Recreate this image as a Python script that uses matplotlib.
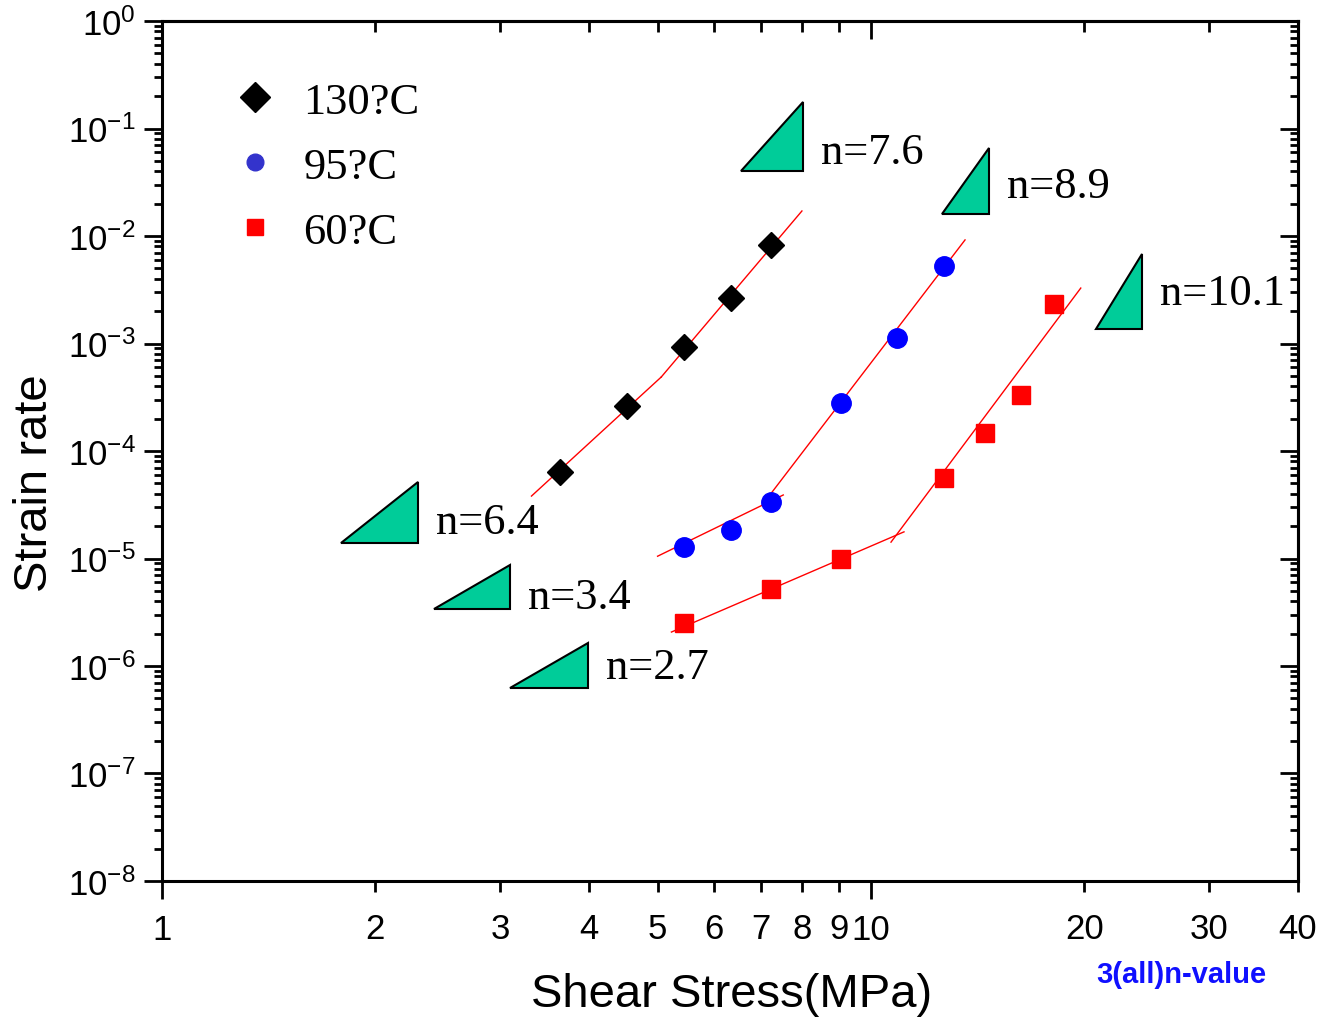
import math
import matplotlib
matplotlib.use("Agg")
import matplotlib.pyplot as plt
from matplotlib.lines import Line2D
from matplotlib.ticker import FixedLocator, FuncFormatter, LogLocator, NullFormatter

plt.rcParams['font.family'] = ['Liberation Sans', 'DejaVu Sans']
plt.rcParams['mathtext.fontset'] = 'custom'
plt.rcParams['mathtext.rm'] = 'Liberation Sans'
plt.rcParams['mathtext.it'] = 'Liberation Sans'
plt.rcParams['mathtext.bf'] = 'Liberation Sans:bold'

# measured points (shear stress in MPa, strain rate)
x130 = [3.64, 4.53, 5.44, 6.35, 7.23]
y130 = [6.4e-5, 2.62e-4, 9.3e-4, 2.65e-3, 8.3e-3]
x95 = [5.44, 6.35, 7.23, 9.07, 10.88, 12.67]
y95 = [1.28e-5, 1.84e-5, 3.36e-5, 2.8e-4, 1.12e-3, 5.3e-3]
x60 = [5.44, 7.23, 9.07, 12.67, 14.47, 16.27, 18.10]
y60 = [2.51e-6, 5.2e-6, 9.9e-6, 5.6e-5, 1.47e-4, 3.32e-4, 2.33e-3]

# fitted segments: (x0, x1, y0, y1)
fits = [
    (3.32, 5.06, 3.81e-5, 4.88e-4),
    (5.06, 7.99, 4.88e-4, 1.71e-2),
    (5.0, 7.52, 1.05e-5, 3.9e-5),
    (7.18, 13.57, 3.81e-5, 9.2e-3),
    (5.23, 11.13, 2.07e-6, 1.77e-5),
    (10.67, 19.76, 1.42e-5, 3.28e-3),
]

# slope triangles: (x_left, x_right, y_bottom, y_top)
triangles = [
    (6.56, 8.02, 4.03e-2, 0.1765),
    (12.59, 14.66, 1.60e-2, 6.59e-2),
    (20.74, 24.08, 1.36e-3, 6.8e-3),
    (1.79, 2.30, 1.39e-5, 5.15e-5),
    (2.42, 3.10, 3.39e-6, 8.7e-6),
    (3.10, 3.99, 6.24e-7, 1.64e-6),
]
n_labels = ['n=7.6', 'n=8.9', 'n=10.1', 'n=6.4', 'n=3.4', 'n=2.7']
n_lift = [6, 12, 18, 7, 1, 7]

legend_labels = ['130?C', '95?C', '60?C']

fig = plt.figure(figsize=(13.22, 10.2), dpi=100)
ax = fig.add_axes([0.1225, 0.1353, 0.8593, 0.8431])
ax.set_xscale('log')
ax.set_yscale('log')
ax.set_xlim(1, 40)
ax.set_ylim(1e-8, 1)

for x0, x1, y0, y1 in fits:
    ax.plot([x0, x1], [y0, y1], color='red', lw=1.0, zorder=2)

ax.plot(x130, y130, 'D', color='black', ms=13, zorder=3)
ax.plot(x95, y95, 'o', color='blue', ms=14, zorder=3)
ax.plot(x60, y60, 's', color='red', ms=13, zorder=3)

for (xl, xr, yb, yt), lab, dy in zip(triangles, n_labels, n_lift):
    ax.fill([xl, xr, xr], [yb, yb, yt], facecolor='#00CC99', edgecolor='black',
            lw=1.5, zorder=2)
    ax.annotate(lab, xy=(xr, yb), xytext=(13, dy), textcoords='offset points',
                family='Liberation Serif', fontsize=32, va='baseline', ha='left')

handles = [
    Line2D([], [], ls='none', marker='D', color='black', ms=15),
    Line2D([], [], ls='none', marker='o', color='#3333CC', ms=12),
    Line2D([], [], ls='none', marker='s', color='red', ms=12),
]
ax.legend(handles, legend_labels, loc='upper left', bbox_to_anchor=(0.062, 0.9295),
          frameon=False, borderpad=0, borderaxespad=0, handlelength=1.0,
          handletextpad=0.6, labelspacing=0.56,
          prop={'family': 'Liberation Serif', 'size': 32})

# x ticks
ax.xaxis.set_major_locator(FixedLocator([1, 10]))
ax.xaxis.set_minor_locator(FixedLocator([2, 3, 4, 5, 6, 7, 8, 9, 20, 30, 40]))
xfmt = FuncFormatter(lambda v, p: '%d' % round(v))
ax.xaxis.set_major_formatter(xfmt)
ax.xaxis.set_minor_formatter(xfmt)
ax.tick_params(axis='x', which='major', direction='out', length=13, width=2,
               labelsize=25, pad=10)
ax.tick_params(axis='x', which='minor', direction='out', length=8, width=2,
               labelsize=25, pad=14)

# y ticks
ax.yaxis.set_major_locator(FixedLocator([10.0 ** k for k in range(-8, 1)]))
ax.yaxis.set_minor_locator(LogLocator(base=10, subs=range(2, 10), numticks=20))
ax.yaxis.set_major_formatter(FuncFormatter(
    lambda v, p: r'$\mathregular{10^{%d}}$' % round(math.log10(v))))
ax.yaxis.set_minor_formatter(NullFormatter())
ax.tick_params(axis='y', which='major', direction='out', length=13, width=2,
               labelsize=25, pad=6)
ax.tick_params(axis='y', which='minor', direction='out', length=6, width=2)

for s in ax.spines.values():
    s.set_linewidth(2.2)

# mirrored inward ticks on top and right
top = ax.secondary_xaxis('top')
top.xaxis.set_major_locator(FixedLocator([1, 10]))
top.xaxis.set_minor_locator(FixedLocator([2, 3, 4, 5, 6, 7, 8, 9, 20, 30, 40]))
top.tick_params(which='major', direction='in', length=13, width=2, labeltop=False)
top.tick_params(which='minor', direction='in', length=8, width=2, labeltop=False)
top.xaxis.set_minor_formatter(NullFormatter())
top.spines['top'].set_linewidth(2.2)

right = ax.secondary_yaxis('right')
right.yaxis.set_major_locator(FixedLocator([10.0 ** k for k in range(-8, 1)]))
right.yaxis.set_minor_locator(LogLocator(base=10, subs=range(2, 10), numticks=20))
right.tick_params(which='major', direction='in', length=13, width=2, labelright=False)
right.tick_params(which='minor', direction='in', length=6, width=2, labelright=False)
right.yaxis.set_minor_formatter(NullFormatter())
right.spines['right'].set_linewidth(2.2)

ax.set_xlabel('Shear Stress(MPa)', fontsize=34, va='center', ha='center')
ax.set_ylabel('Strain rate', fontsize=34, va='center', ha='center')
ax.xaxis.set_label_coords(0.501, -0.131)
ax.yaxis.set_label_coords(-0.112, 0.464)

fig.text(0.8935, 0.044, '3(all)n-value', color='#1010FF', fontsize=21,
         fontweight='bold', ha='center', va='center')

fig.savefig('out.png', dpi=100)
